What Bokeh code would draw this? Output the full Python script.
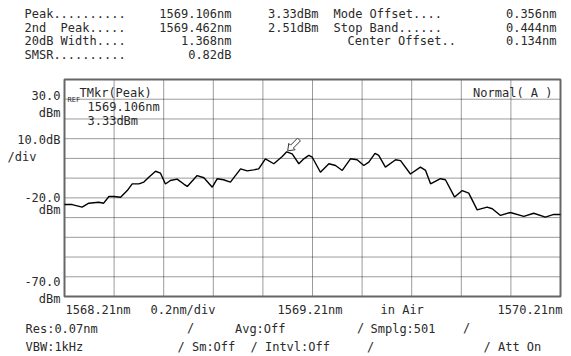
from bokeh.plotting import figure
from bokeh.models import Label, Range1d
from bokeh.embed import file_html
from bokeh.resources import INLINE
import math

# ---- data ----
wavelength_nm = [1568.210, 1568.241, 1568.281, 1568.308, 1568.348, 1568.368, 1568.389, 1568.409,
                 1568.436, 1568.463, 1568.483, 1568.510, 1568.530, 1568.550, 1568.577, 1568.597,
                 1568.617, 1568.637, 1568.664, 1568.691, 1568.705, 1568.745, 1568.772, 1568.806,
                 1568.826, 1568.851, 1568.879, 1568.920, 1568.947, 1568.973, 1568.993, 1569.020,
                 1569.054, 1569.088, 1569.106, 1569.128, 1569.155, 1569.175, 1569.195, 1569.209,
                 1569.242, 1569.276, 1569.303, 1569.330, 1569.363, 1569.390, 1569.417, 1569.437,
                 1569.462, 1569.477, 1569.504, 1569.545, 1569.565, 1569.605, 1569.645, 1569.666,
                 1569.686, 1569.726, 1569.746, 1569.783, 1569.814, 1569.840, 1569.874, 1569.914,
                 1569.935, 1569.968, 1570.008, 1570.062, 1570.102, 1570.149, 1570.183, 1570.210]
power_dbm = [-23.4, -23.4, -24.7, -22.7, -22.2, -22.7, -19.3, -19.3,
             -19.7, -16.3, -12.9, -12.9, -12.0, -9.5, -6.5, -7.5,
             -13.0, -11.2, -10.5, -13.0, -14.2, -8.7, -9.8, -14.6,
             -10.3, -10.8, -12.0, -5.3, -6.3, -5.8, -5.3, -0.2,
             -2.7, 1.0, 3.33, 2.3, -2.7, -0.2, 1.5, 0.6,
             -7.0, -2.7, -3.6, -6.1, -0.2, -0.7, -3.6, -1.9,
             2.51, 1.5, -4.4, -0.7, -1.1, -7.9, -4.4, -6.1,
             -12.9, -10.3, -10.8, -19.6, -16.3, -17.6, -26.1, -24.7,
             -25.5, -28.9, -27.4, -29.4, -27.8, -29.8, -28.4, -28.4]

peak_nm = 1569.106
peak_dbm = 3.33
x_start = 1568.21
x_stop = 1570.21
x_div = 0.2
y_top = 40.0
y_bottom = -70.0
y_div = 10.0

# ---- geometry (picture pixels; canvas starts at 0,0 in the picture) ----
W, H = 571, 356
OFF = 0
PL, PR, PT, PB = 64, 560, 79, 296     # plotting box
sx = (x_stop - x_start) / (PR - PL)
sy = (y_top - y_bottom) / (PB - PT)

def X(px):
    return x_start + (px - PL) * sx
def Y(py):
    return y_top - (py - PT) * sy
def PX(x):
    return PL + (x - x_start) / sx
def PY(y):
    return PT + (y_top - y) / sy

p = figure(width=W, height=H, output_backend="svg", toolbar_location=None,
           x_range=Range1d(X(OFF), X(OFF + W)), y_range=Range1d(Y(OFF + H), Y(OFF)),
           min_border_left=0, min_border_right=0, min_border_top=0, min_border_bottom=0)
p.xaxis.visible = False
p.yaxis.visible = False
p.xgrid.visible = False
p.ygrid.visible = False
p.outline_line_color = None
p.background_fill_color = "white"
p.border_fill_color = "white"

nx = int(round((x_stop - x_start) / x_div))
ny = int(round((y_top - y_bottom) / y_div))
gx = [x_start + x_div * i for i in range(1, nx)]
gy = [y_bottom + y_div * i for i in range(1, ny)]
p.segment(x0=gx, y0=[y_bottom] * len(gx), x1=gx, y1=[y_top] * len(gx),
          line_color="#222222", line_dash="1 1", line_width=1, line_alpha=0.9)
p.segment(x0=[x_start] * len(gy), y0=gy, x1=[x_stop] * len(gy), y1=gy,
          line_color="#222222", line_dash="1 1", line_width=1, line_alpha=0.9)
p.quad(left=[x_start], right=[x_stop], bottom=[y_bottom], top=[y_top],
       fill_color=None, line_color="#666666", line_width=2)

p.line(wavelength_nm, power_dbm, line_color="black", line_width=1.4)

# marker arrow near peak
tx, ty = PX(peak_nm) + 1, PY(peak_dbm) - 1
ux, uy = 1 / math.sqrt(2), -1 / math.sqrt(2)
vx, vy = -uy, ux
shape = [(0, 0), (6, 4.5), (6, 2), (16, 2), (16, -2), (6, -2), (6, -4.5)]
ax = [X(tx + a * ux + b * vx) for a, b in shape]
ay = [Y(ty + a * uy + b * vy) for a, b in shape]
p.patch(ax, ay, fill_color="white", line_color="#333333", line_width=1)

FONT = "DejaVu Sans Mono"
COL = "#2a2a2a"
texts = [
    ("Peak..........", 24, 13, "left"), ("2nd", 24, 27, "left"), ("Peak.....", 60, 27, "left"),
    ("20dB Width....", 24, 40, "left"), ("SMSR..........", 24, 54, "left"),
    ("1569.106nm", 231, 13, "right"), ("1569.462nm", 231, 27, "right"),
    ("1.368nm", 231, 40, "right"), ("0.82dB", 231, 54, "right"),
    ("3.33dBm", 318, 13, "right"), ("2.51dBm", 318, 27, "right"),
    ("Mode Offset....", 333, 13, "left"), ("Stop Band......", 333, 27, "left"),
    ("Center Offset..", 347, 40, "left"),
    ("0.356nm", 556, 13, "right"), ("0.444nm", 556, 27, "right"), ("0.134nm", 556, 40, "right"),
    ("30.0", 60, 95, "right"), ("dBm", 60, 112, "right"),
    ("10.0dB", 60, 139, "right"), ("/div", 7, 156, "left"),
    ("-20.0", 60, 197, "right"), ("dBm", 60, 209, "right"),
    ("-70.0", 60, 281, "right"), ("dBm", 60, 298, "right"),
    ("1568.21nm", 65, 309, "left"), ("0.2nm/div", 150, 309, "left"),
    ("1569.21nm", 342, 309, "right"), ("in Air", 380, 309, "left"),
    ("1570.21nm", 562, 309, "right"),
    ("Res:0.07nm", 25, 328, "left"), ("/", 190, 327, "center"), ("Avg:Off", 285, 328, "right"),
    ("/", 360, 327, "center"), ("Smplg:501", 370, 328, "left"), ("/", 466, 327, "center"),
    ("VBW:1kHz", 25, 346, "left"), ("/ Sm:Off", 177, 346, "left"),
    ("/ Intvl:Off", 250, 346, "left"), ("/", 370, 346, "center"), ("/ Att On", 483, 346, "left"),
    ("TMkr(Peak)", 79, 92, "left"), ("1569.106nm", 87, 106, "left"), ("3.33dBm", 87, 120, "left"),
    ("Normal( A )", 552, 92, "right"),
]
for t, px, py, al in texts:
    p.add_layout(Label(x=X(px), y=Y(py), text=t, text_align=al, text_baseline="middle",
                       text_font=FONT, text_font_size="12px", text_color=COL))
p.add_layout(Label(x=X(67), y=Y(99), text="REF", text_align="left", text_baseline="middle",
                   text_font=FONT, text_font_size="7px", text_color=COL))

open("out.html", "w").write(file_html(p, INLINE))
